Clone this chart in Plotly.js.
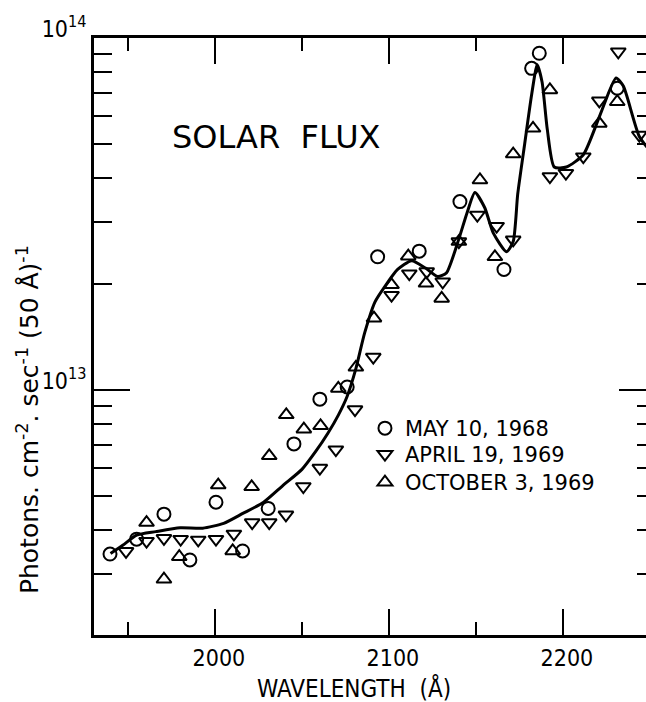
<!DOCTYPE html>
<html><head><meta charset="utf-8">
<script src="https://cdn.plot.ly/plotly-3.0.1.min.js"></script>
<style>html,body{margin:0;padding:0;overflow:hidden;background:#fff;width:646px;height:702px}#chart{width:662px;height:702px}</style>
</head><body><div id="chart"></div><script>
// May 10, 1968 (circles)
const mayX = [1939.7, 1955.0, 1970.7, 1985.6, 2000.6, 2015.9, 2030.6, 2045.4, 2060.3, 2076.0, 2093.5, 2117.4, 2140.8, 2166.1, 2182.0, 2186.4, 2231.2];
const mayY = [3.42e12, 3.77e12, 4.44e12, 3.29e12, 4.80e12, 3.49e12, 4.61e12, 7.03e12, 9.42e12, 1.02e13, 2.39e13, 2.48e13, 3.43e13, 2.20e13, 8.2e13, 9.05e13, 7.2e13];
// April 19, 1969 (down triangles)
const aprX = [1948.9, 1960.7, 1970.7, 1980.3, 1990.4, 2000.6, 2010.9, 2021.4, 2031.2, 2040.8, 2050.8, 2060.3, 2069.5, 2080.5, 2091.0, 2101.5, 2111.7, 2121.7, 2130.9, 2140.2, 2150.8, 2161.9, 2171.4, 2192.5, 2201.7, 2211.7, 2220.9, 2231.8, 2243.9];
const aprY = [3.48e12, 3.72e12, 3.79e12, 3.77e12, 3.75e12, 3.77e12, 3.90e12, 4.20e12, 4.20e12, 4.42e12, 5.32e12, 6.0e12, 6.77e12, 8.8e12, 1.24e13, 1.86e13, 2.14e13, 2.17e13, 2.03e13, 2.64e13, 3.14e13, 2.92e13, 2.67e13, 4.04e13, 4.13e13, 4.60e13, 6.63e13, 9.14e13, 5.30e13];
// October 3, 1969 (up triangles)
const octX = [1960.7, 1970.7, 1979.5, 2001.9, 2010.2, 2021.1, 2031.2, 2041.0, 2051.1, 2060.7, 2070.9, 2081.0, 2091.4, 2101.5, 2111.1, 2121.3, 2130.3, 2140.2, 2152.3, 2160.9, 2171.4, 2182.8, 2192.5, 2220.9, 2231.2];
const octY = [4.20e12, 2.90e12, 3.36e12, 5.37e12, 3.49e12, 5.31e12, 6.50e12, 8.5e12, 7.74e12, 7.91e12, 1.01e13, 1.16e13, 1.60e13, 1.99e13, 2.40e13, 2.01e13, 1.82e13, 2.64e13, 3.95e13, 2.39e13, 4.68e13, 5.54e13, 7.12e13, 5.72e13, 6.59e13];
// Smooth curve through the data
const fitX = [1940, 1947, 1955, 1966, 1980, 1993, 2005, 2016, 2028, 2039, 2050, 2058, 2065, 2071, 2076, 2081, 2086, 2092, 2098, 2105, 2113, 2121, 2128, 2133, 2140, 2145, 2149.4, 2155, 2160, 2167.6, 2171.4, 2174, 2178, 2182, 2185.2, 2188, 2191, 2195, 2202, 2211.7, 2221.3, 2230.5, 2234.7, 2243.9, 2252.9];
const fitY = [3.43e12, 3.62e12, 3.87e12, 3.96e12, 4.06e12, 4.05e12, 4.18e12, 4.46e12, 4.8e12, 5.35e12, 5.95e12, 6.7e12, 7.55e12, 8.5e12, 9.6e12, 1.15e13, 1.45e13, 1.78e13, 1.98e13, 2.2e13, 2.33e13, 2.22e13, 2.10e13, 2.15e13, 2.67e13, 3.2e13, 3.64e13, 3.3e13, 2.79e13, 2.47e13, 2.64e13, 3.6e13, 5.0e13, 6.9e13, 8.4e13, 7.5e13, 5.5e13, 4.3e13, 4.3e13, 4.66e13, 6.04e13, 7.7e13, 7.3e13, 5.25e13, 4.6e13];

const seriesNames = ['MAY 10, 1968', 'APRIL 19, 1969', 'OCTOBER 3, 1969'];
const xTickVals = [2000, 2100, 2200];
const xMinorVals = [1950, 2050, 2150, 2250];
const yTickVals = [1e13, 1e14];
const yTickText = ['10<sup>13</sup>', '10<sup>14</sup>'];
const yMinorVals = [3e12, 4e12, 5e12, 6e12, 7e12, 8e12, 9e12, 2e13, 3e13, 4e13, 5e13, 6e13, 7e13, 8e13, 9e13];
const xTitle = 'WAVELENGTH  (Å)';
const yTitle = 'Photons. cm<sup>-2</sup>. sec<sup>-1</sup> (50 Å)<sup>-1</sup>';
const chartLabel = 'SOLAR  FLUX';

const NUM = '"DejaVu Sans Condensed", "DejaVu Sans", sans-serif';
const TXT = '"DejaVu Sans", sans-serif';
const mk = (sym) => ({symbol: sym, size: 13, color: '#000', line: {color: '#000', width: 2}});

const traces = [
  {x: fitX, y: fitY, mode: 'lines', line: {color: '#000', width: 3, shape: 'spline', smoothing: 0.6}, showlegend: false, hoverinfo: 'skip'},
  {x: mayX, y: mayY, mode: 'markers', name: seriesNames[0], marker: mk('circle-open'), legend: 'legend'},
  {x: aprX, y: aprY, mode: 'markers', name: seriesNames[1], marker: mk('triangle-down-open'), legend: 'legend2'},
  {x: octX, y: octY, mode: 'markers', name: seriesNames[2], marker: mk('triangle-up-open'), legend: 'legend3'}
];

const legBase = (y) => ({x: 0.483, y: y, xanchor: 'left', yanchor: 'top', bgcolor: 'rgba(0,0,0,0)', borderwidth: 0,
  font: {family: TXT, size: 21, color: '#000'}});

const layout = {
  width: 662, height: 702,
  margin: {l: 94, r: 7, t: 38, b: 67},
  paper_bgcolor: '#fff', plot_bgcolor: '#fff',
  showlegend: true,
  xaxis: {
    range: [1930.5, 2252.9], tickmode: 'array', tickvals: xTickVals,
    ticks: 'inside', ticklen: 26, tickwidth: 2, tickcolor: '#000',
    showline: true, linewidth: 3, linecolor: '#000', mirror: 'ticks',
    showgrid: false, zeroline: false, ticklabelshift: 4,
    tickfont: {family: NUM, size: 23, color: '#000'},
    minor: {tickmode: 'array', tickvals: xMinorVals, ticks: 'inside', ticklen: 13, tickwidth: 2, tickcolor: '#000', showgrid: false}
  },
  yaxis: {
    type: 'log', range: [12.304, 14], tickmode: 'array', tickvals: yTickVals, ticktext: yTickText,
    ticks: 'inside', ticklen: 36, tickwidth: 2, tickcolor: '#000',
    showline: true, linewidth: 3, linecolor: '#000', mirror: 'ticks',
    showgrid: false, zeroline: false, ticklabelshift: -9, ticklabelstandoff: 0,
    tickfont: {family: NUM, size: 23, color: '#000'},
    minor: {tickmode: 'array', tickvals: yMinorVals, ticks: 'inside', ticklen: 18, tickwidth: 2, tickcolor: '#000', showgrid: false}
  },
  legend: legBase(0.3802),
  legend2: legBase(0.3367),
  legend3: legBase(0.2898),
  annotations: [
    {text: chartLabel, xref: 'paper', yref: 'paper', x: 0.326, y: 0.834, showarrow: false,
     font: {family: TXT, size: 32, color: '#000'}, xanchor: 'center', yanchor: 'middle'},
    {text: xTitle, xref: 'paper', yref: 'paper', x: 0.4635, y: -0.0888, showarrow: false,
     font: {family: NUM, size: 24, color: '#000'}, xanchor: 'center', yanchor: 'middle'},
    {text: yTitle, xref: 'paper', yref: 'paper', x: -0.1176, y: 0.360, showarrow: false, textangle: -90,
     font: {family: TXT, size: 25, color: '#000'}, xanchor: 'center', yanchor: 'middle'}
  ]
};

Plotly.newPlot('chart', traces, layout, {displayModeBar: false, staticPlot: true});
</script></body></html>
